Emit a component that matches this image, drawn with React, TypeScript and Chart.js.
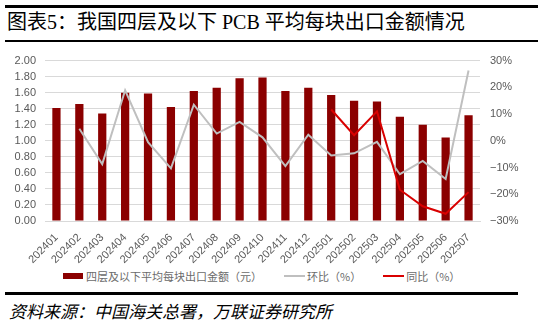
import React, { useEffect, useRef } from "react";
import { Chart, registerables } from "chart.js";

Chart.register(...registerables);

const categories = [
  "202401", "202402", "202403", "202404", "202405", "202406", "202407",
  "202408", "202409", "202410", "202411", "202412", "202501", "202502",
  "202503", "202504", "202505", "202506", "202507",
];
const avgValue = [
  1.41, 1.46, 1.34, 1.6, 1.59, 1.42, 1.62, 1.66, 1.78, 1.79, 1.62, 1.66,
  1.57, 1.5, 1.49, 1.3, 1.2, 1.04, 1.32,
];
const momPct = [
  null, 4.5, -8.7, 18.9, -0.5, -10.3, 13.5, 2.7, 7.1, 1.3, -9.5, 2.3,
  -5.5, -4.7, -0.4, -12.5, -7.5, -14.3, 26.3,
];
const yoyPct = [
  null, null, null, null, null, null, null, null, null, null, null, null,
  11.7, 2.1, 11.0, -18.3, -24.5, -27.3, -19.2,
];
const seriesNames = ["四层及以下平均每块出口金额（元）", "环比（%）", "同比（%）"];
const title = "图表5：我国四层及以下 PCB 平均每块出口金额情况";
const source = "资料来源：中国海关总署，万联证券研究所";

const BAR = "#8B0000";
const GREY = "#BFBFBF";
const RED = "#D90000";
const TICK = "#595959";
const TICK_FONT = { family: "'Liberation Sans', 'Noto Sans CJK SC', sans-serif", size: 11 };

export default function App() {
  const ref = useRef<HTMLCanvasElement | null>(null);

  useEffect(() => {
    if (!ref.current) return;
    const chart = new Chart(ref.current, {
      type: "bar",
      data: {
        labels: categories,
        datasets: [
          {
            type: "line",
            label: seriesNames[2],
            data: yoyPct,
            yAxisID: "y1",
            borderColor: RED,
            borderWidth: 2,
            pointRadius: 0,
            tension: 0,
            order: 1,
          } as any,
          {
            type: "line",
            label: seriesNames[1],
            data: momPct,
            yAxisID: "y1",
            borderColor: GREY,
            borderWidth: 2,
            pointRadius: 0,
            tension: 0,
            order: 2,
          } as any,
          {
            type: "bar",
            label: seriesNames[0],
            data: avgValue,
            yAxisID: "y",
            backgroundColor: BAR,
            barPercentage: 0.36,
            categoryPercentage: 1,
            order: 3,
          } as any,
        ],
      },
      options: {
        animation: false,
        responsive: true,
        maintainAspectRatio: false,
        layout: { padding: { top: 10, left: 0, right: 0, bottom: 0 } },
        plugins: { legend: { display: false }, tooltip: { enabled: false } },
        scales: {
          x: {
            grid: { display: false },
            border: { color: "#D9D9D9" },
            ticks: {
              color: TICK,
              font: TICK_FONT,
              minRotation: 45,
              maxRotation: 45,
              padding: 2,
              autoSkip: false,
            },
            afterFit: (s: any) => {
              s.height = 47;
            },
          },
          y: {
            position: "left",
            min: 0,
            max: 2,
            grid: { color: "#D9D9D9", drawTicks: false },
            border: { display: false },
            ticks: {
              stepSize: 0.2,
              autoSkip: false,
              color: TICK,
              font: TICK_FONT,
              padding: 9,
              callback: (v: any) => Number(v).toFixed(2),
            },
            afterFit: (s: any) => {
              s.width = 45;
            },
          },
          y1: {
            position: "right",
            min: -30,
            max: 30,
            grid: { display: false, drawTicks: false },
            border: { display: false },
            ticks: {
              stepSize: 10,
              autoSkip: false,
              color: TICK,
              font: TICK_FONT,
              padding: 10,
              callback: (v: any) => (Number(v) < 0 ? "−" + Math.abs(Number(v)) : String(v)) + "%",
            },
            afterFit: (s: any) => {
              s.width = 63;
            },
          },
        },
      },
    });
    return () => chart.destroy();
  }, []);

  const legendText: React.CSSProperties = {
    fontFamily: "'Noto Sans CJK SC', sans-serif",
    fontSize: 11,
    color: "#6b6b6b",
    lineHeight: "12px",
  };

  return (
    <div
      style={{
        position: "absolute",
        left: 0,
        top: 0,
        width: 543,
        height: 326,
        background: "#fff",
        overflow: "hidden",
      }}
    >
      <div style={{ position: "absolute", left: 5, top: 5, width: 533, height: 3, background: "#000" }} />
      <div
        style={{
          position: "absolute",
          left: 7,
          top: 9,
          fontFamily: "'Liberation Serif', 'Noto Sans CJK SC', serif",
          fontSize: 20,
          lineHeight: "26px",
          color: "#000",
          whiteSpace: "nowrap",
        }}
      >
        {title}
      </div>
      <div style={{ position: "absolute", left: 5, top: 40, width: 533, height: 2, background: "#000" }} />
      <div style={{ position: "absolute", left: 0, top: 44, width: 543, height: 224 }}>
        <canvas ref={ref} />
      </div>
      <div
        style={{
          position: "absolute",
          left: 63,
          top: 270,
          display: "flex",
          alignItems: "center",
          whiteSpace: "nowrap",
        }}
      >
        <span style={{ display: "inline-block", width: 20, height: 6, background: BAR, marginRight: 3 }} />
        <span style={legendText}>{seriesNames[0]}</span>
        <span style={{ display: "inline-block", width: 21, height: 2, background: GREY, marginLeft: 22, marginRight: 2 }} />
        <span style={legendText}>{seriesNames[1]}</span>
        <span style={{ display: "inline-block", width: 21, height: 2, background: RED, marginLeft: 22, marginRight: 2 }} />
        <span style={legendText}>{seriesNames[2]}</span>
      </div>
      <div style={{ position: "absolute", left: 5, top: 292, width: 513, height: 3, background: "#000" }} />
      <div
        style={{
          position: "absolute",
          left: 9,
          top: 300,
          fontFamily: "'Noto Sans CJK SC', sans-serif",
          fontStyle: "italic",
          fontSize: 17,
          lineHeight: "22px",
          color: "#000",
          whiteSpace: "nowrap",
        }}
      >
        {source}
      </div>
    </div>
  );
}
